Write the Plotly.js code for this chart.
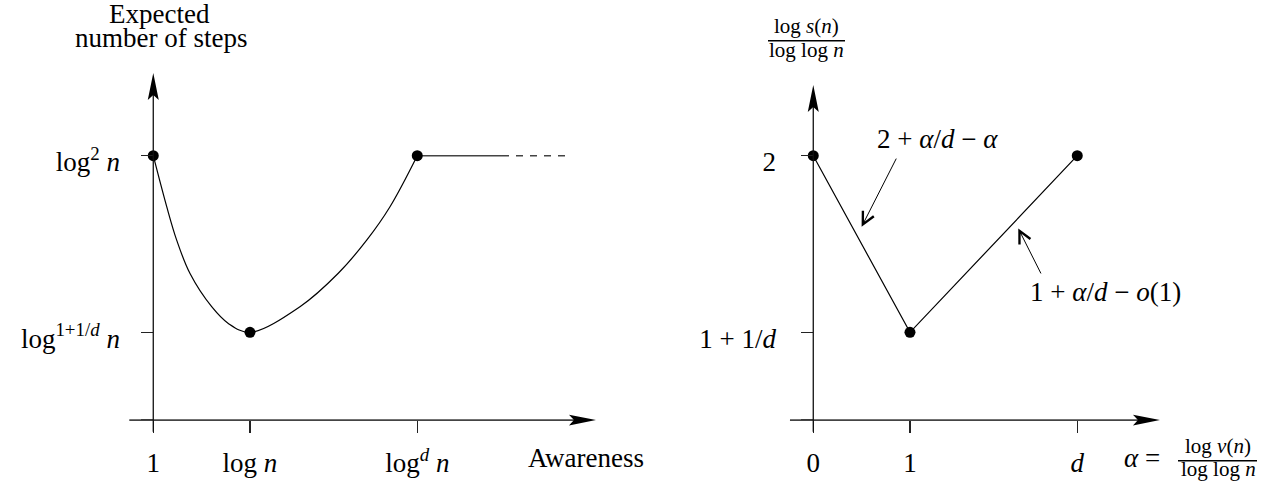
<!DOCTYPE html>
<html>
<head>
<meta charset="utf-8">
<script src="https://cdn.plot.ly/plotly-3.0.1.min.js"></script>
<style>html,body{margin:0;padding:0;background:#fff;}#chart{width:1273px;height:482px;}</style>
</head>
<body>
<div id="chart"></div>
<script>
// ---------- data ----------
// Left panel: expected number of steps vs awareness (schematic)
const awarenessTickVals = [0, 1, 2.73];
const awarenessTickText = ['1', 'log <i>n</i>', 'log<sup><i>d</i></sup> <i>n</i>'];
const stepsTickVals = [1.051, 1.366, 2];
const stepsTickText = ['', 'log<sup>1+1/<i>d</i></sup> <i>n</i>', 'log<sup>2</sup> <i>n</i>'];
const curveX = [0, 0.139, 0.242, 0.380, 0.604, 0.776, 1.0, 1.517, 1.913, 2.207, 2.448, 2.73];
const curveY = [2, 1.817, 1.697, 1.577, 1.458, 1.398, 1.366, 1.458, 1.578, 1.697, 1.817, 2];
const keyX = [0, 1, 2.73];
const keyY = [2, 1.366, 2];
const plateauX = [2.73, 3.606];
const plateauY = [2, 2];
const plateauDashX = [3.606, 4.278];
const plateauDashY = [2, 2];

// Right panel: log s(n)/log log n vs alpha
const alphaTickVals = [0, 1, 2.73];
const alphaTickText = ['0', '1', '<i>d</i>'];
const ratioTickVals = [1.051, 1.366, 2];
const ratioTickText = ['', '1 + 1/<i>d</i>', '2'];
const alphaX = [0, 1, 2.73];
const ratioY = [2, 1.366, 2];

// ---------- layout constants ----------
const FONT = "'Liberation Serif', 'Times New Roman', Times, serif";
const W = 1273, H = 482;
const yRange = [0.8288, 2.5589];
const axisY = 1.051;      // level of the horizontal axes
const axisBottom = 1.009; // lower end of vertical axes
const leftTip = {x: 4.578, y: 2.297};
const rightTip = {x: 3.585, y: 2.254};
const px = v => v / W;
const py = v => 1 - v / H;

const traces = [
  {x: curveX, y: curveY, xaxis: 'x', yaxis: 'y', mode: 'lines',
   line: {color: '#000', width: 1.2, shape: 'spline', smoothing: 1}, hoverinfo: 'skip'},
  {x: plateauX, y: plateauY, xaxis: 'x', yaxis: 'y', mode: 'lines',
   line: {color: '#444', width: 1.5}, hoverinfo: 'skip'},
  {x: plateauDashX, y: plateauDashY, xaxis: 'x', yaxis: 'y', mode: 'lines',
   line: {color: '#444', width: 1.5, dash: '7px,7px'}, hoverinfo: 'skip'},
  {x: keyX, y: keyY, xaxis: 'x', yaxis: 'y', mode: 'markers',
   marker: {color: '#000', size: 11}, hoverinfo: 'skip'},
  {x: alphaX, y: ratioY, xaxis: 'x2', yaxis: 'y2', mode: 'lines+markers',
   line: {color: '#000', width: 1.2}, marker: {color: '#000', size: 11}, hoverinfo: 'skip'}
];

function xAxis(domain, range, vals, text) {
  return {domain: domain, range: range, anchor: 'free', position: 1 - 420 / H,
    tickvals: vals, ticktext: text, ticks: 'outside', ticklen: 12, tickwidth: 1.3, tickcolor: '#222',
    showgrid: false, zeroline: false, showline: false, ticklabelstandoff: 7,
    tickfont: {family: FONT, size: 27, color: '#000'}, fixedrange: true};
}
function yAxis(pos, vals, text, standoff) {
  return {domain: [0, 1], range: yRange, anchor: 'free', position: pos,
    tickvals: vals, ticktext: text, ticks: 'outside', ticklen: 12, tickwidth: 1.3, tickcolor: '#222',
    showgrid: false, zeroline: false, showline: false, ticklabelstandoff: standoff, ticklabelshift: 6,
    tickfont: {family: FONT, size: 27, color: '#000'}, fixedrange: true};
}

const upHead = 'M0,0 L-5.5,-27 L0,-22 L5.5,-27 Z';
const rightHead = 'M0,0 L-27,5.3 L-22,0 L-27,-5.3 Z';

const shapes = [
  // left axes
  {type: 'line', xref: 'x', yref: 'y', x0: -0.248, x1: leftTip.x - 0.2, y0: axisY, y1: axisY, line: {color: '#444', width: 1.6}},
  {type: 'line', xref: 'x', yref: 'y', x0: 0, x1: 0, y0: axisBottom, y1: leftTip.y - 0.07, line: {color: '#111', width: 1.3}},
  {type: 'path', xref: 'x', yref: 'y', xsizemode: 'pixel', ysizemode: 'pixel', xanchor: leftTip.x, yanchor: axisY, path: rightHead, fillcolor: '#000', line: {width: 0}},
  {type: 'path', xref: 'x', yref: 'y', xsizemode: 'pixel', ysizemode: 'pixel', xanchor: 0, yanchor: leftTip.y, path: upHead, fillcolor: '#000', line: {width: 0}},
  // right axes
  {type: 'line', xref: 'x2', yref: 'y2', x0: -0.241, x1: rightTip.x - 0.2, y0: axisY, y1: axisY, line: {color: '#444', width: 1.6}},
  {type: 'line', xref: 'x2', yref: 'y2', x0: 0, x1: 0, y0: axisBottom, y1: rightTip.y - 0.07, line: {color: '#111', width: 1.3}},
  {type: 'path', xref: 'x2', yref: 'y2', xsizemode: 'pixel', ysizemode: 'pixel', xanchor: rightTip.x, yanchor: axisY, path: rightHead, fillcolor: '#000', line: {width: 0}},
  {type: 'path', xref: 'x2', yref: 'y2', xsizemode: 'pixel', ysizemode: 'pixel', xanchor: 0, yanchor: rightTip.y, path: upHead, fillcolor: '#000', line: {width: 0}},
  // fraction bars
  {type: 'line', xref: 'paper', yref: 'paper', x0: px(768), x1: px(845), y0: py(40.7), y1: py(40.7), line: {color: '#000', width: 1.4}},
  {type: 'line', xref: 'paper', yref: 'paper', x0: px(1178), x1: px(1257), y0: py(460.7), y1: py(460.7), line: {color: '#000', width: 1.4}}
];

function txt(text, x, y, size) {
  return {text: text, xref: 'paper', yref: 'paper', x: px(x), y: py(y), xanchor: 'center', yanchor: 'middle',
    showarrow: false, font: {family: FONT, size: size, color: '#000'}};
}

const annotations = [
  txt('Expected', 159, 14, 27),
  txt('number of steps', 161, 38, 27),
  txt('Awareness', 586, 458, 27),
  txt('log <i>s</i>(<i>n</i>)', 806, 26, 21),
  txt('log log <i>n</i>', 806, 50, 21),
  txt('<i>α</i> =', 1142, 458, 27),
  txt('log <i>v</i>(<i>n</i>)', 1218, 446, 21),
  txt('log log <i>n</i>', 1218, 469, 21),
  {text: '2 + <i>α</i>/<i>d</i> − <i>α</i>', xref: 'x2', yref: 'y2', x: 1.284, y: 2.06, showarrow: false,
   xanchor: 'center', yanchor: 'middle', font: {family: FONT, size: 27, color: '#000'}},
  {text: '1 + <i>α</i>/<i>d</i> − <i>o</i>(1)', xref: 'x2', yref: 'y2', x: 3.027, y: 1.511, showarrow: false,
   xanchor: 'center', yanchor: 'middle', font: {family: FONT, size: 27, color: '#000'}},
  {text: '', xref: 'x2', yref: 'y2', x: 0.5, y: 1.745, axref: 'x2', ayref: 'y2', ax: 0.866, ay: 1.995,
   showarrow: true, arrowhead: 5, arrowsize: 2.4, arrowwidth: 1, arrowcolor: '#000'},
  {text: '', xref: 'x2', yref: 'y2', x: 2.12, y: 1.739, axref: 'x2', ayref: 'y2', ax: 2.362, ay: 1.572,
   showarrow: true, arrowhead: 5, arrowsize: 2.4, arrowwidth: 1, arrowcolor: '#000'}
];

const layout = {
  width: W, height: H, margin: {l: 0, r: 0, t: 0, b: 0}, showlegend: false,
  paper_bgcolor: '#fff', plot_bgcolor: 'rgba(0,0,0,0)',
  font: {family: FONT, size: 27, color: '#000'},
  xaxis: xAxis([0, 0.5], [-1.585, 4.997], awarenessTickVals, awarenessTickText),
  yaxis: yAxis(153.3 / W, stepsTickVals, stepsTickText, 16),
  xaxis2: xAxis([0.5, 1], [-1.828, 4.754], alphaTickVals, alphaTickText),
  yaxis2: yAxis(813.3 / W, ratioTickVals, ratioTickText, 20),
  shapes: shapes,
  annotations: annotations
};

Plotly.newPlot('chart', traces, layout, {staticPlot: true, displayModeBar: false});
</script>
</body>
</html>
